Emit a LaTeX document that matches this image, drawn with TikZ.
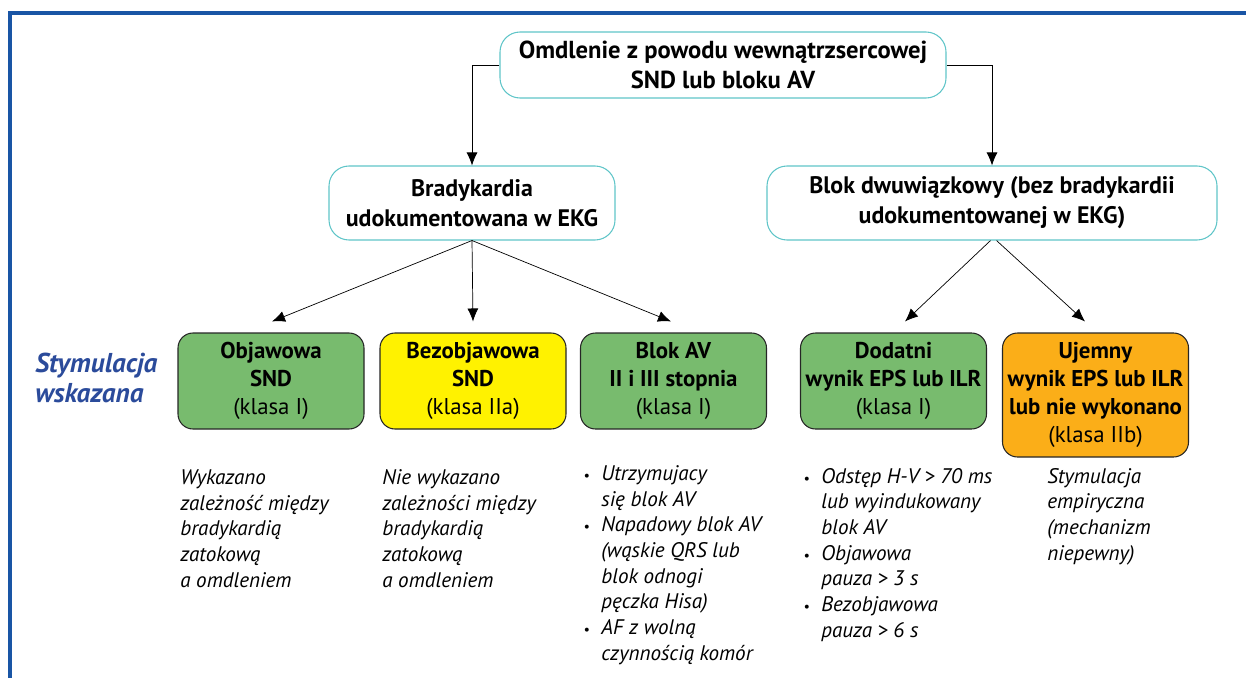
\documentclass[tikz,border=0pt]{standalone}
\usepackage{fontspec}
\setmainfont{PT Sans}
\usetikzlibrary{arrows.meta}

\definecolor{boxgreen}{RGB}{120,187,110}
\definecolor{boxyellow}{RGB}{255,242,0}
\definecolor{boxorange}{RGB}{251,174,24}
\definecolor{frameteal}{RGB}{95,197,200}
\definecolor{titleblue}{RGB}{43,75,155}
\definecolor{frameblue}{RGB}{25,85,165}

\newcommand{\itm}{\makebox[0.36cm][l]{\footnotesize\textbullet}}
\newcommand{\ind}{\hspace*{0.36cm}}

\begin{document}
\begin{tikzpicture}[
	>={Latex[length=2.6mm,width=2.2mm]},
	headbox/.style={draw=frameteal, line width=0.6pt, rounded corners=0.4cm, align=center,
		font=\fontsize{13.6}{17}\selectfont\bfseries, inner sep=0pt},
	classbox/.style={draw=black!85, line width=0.6pt, rounded corners=0.3cm, align=center,
		minimum width=3.72cm, minimum height=1.92cm, inner sep=0pt, font=\fontsize{13}{16}\selectfont},
	note/.style={anchor=base west, align=left, inner sep=0pt, font=\fontsize{12}{14.6}\selectfont\itshape}
	]
		\useasboundingbox (0,0) rectangle (24.92,-13.54);
		\draw[frameblue, line width=1.8pt] (0.2,-13.6) -- (0.2,-0.26) -- (25,-0.26);
		
		\node[headbox, font=\fontsize{14}{17}\selectfont\bfseries, minimum width=8.92cm, minimum height=1.32cm] (syncope) at (14.46,-1.3) {Omdlenie z powodu wewnątrzsercowej\\SND lub bloku AV};
		\node[headbox, minimum width=5.72cm, minimum height=1.48cm] (brady) at (9.44,-4.06) {Bradykardia\\udokumentowana w EKG};
		\node[headbox, minimum width=9.0cm, minimum height=1.48cm] (bifasc) at (19.84,-4.06) {Blok dwuwiązkowy (bez bradykardii\\udokumentowanej w EKG)};
		
		\node[anchor=base west, align=left, inner sep=0pt, text=titleblue, font=\fontsize{15.5}{17}\selectfont\bfseries\itshape] (paced) at (0.7,-8.04) {Stymulacja\\wskazana};
		
		\node[classbox, fill=boxgreen] (sndsym) at (5.42,-7.62) {\textbf{Objawowa}\\\textbf{SND}\\(klasa I)};
		\node[classbox, fill=boxyellow] (sndasym) at (9.46,-7.62) {\textbf{Bezobjawowa}\\\textbf{SND}\\(klasa IIa)};
		\node[classbox, fill=boxgreen] (avblock) at (13.47,-7.62) {\textbf{Blok AV}\\\textbf{II i III stopnia}\\(klasa I)};
		\node[classbox, fill=boxgreen] (posit) at (17.87,-7.62) {\textbf{Dodatni}\\\textbf{wynik EPS lub ILR}\\(klasa I)};
		\node[classbox, fill=boxorange, minimum height=2.48cm] (negat) at (21.91,-7.9) {\textbf{Ujemny}\\\textbf{wynik EPS lub ILR}\\\textbf{lub nie wykonano}\\(klasa IIb)};
		
		\draw[->] (syncope.west) -| (brady.north);
		\draw[->] (syncope.east) -| (bifasc.north);
		\draw[->] (brady.south) -- ([xshift=0.02cm,yshift=0.22cm]sndsym.north);
		\draw[->] (brady.south) -- ([yshift=0.22cm]sndasym.north);
		\draw[->] (brady.south) -- ([xshift=-0.05cm,yshift=0.22cm]avblock.north);
		\draw[->] ([xshift=-0.03cm]bifasc.south) -- ([xshift=0.23cm,yshift=0.22cm]posit.north);
		\draw[->] ([xshift=0.09cm]bifasc.south) -- ([xshift=-0.21cm,yshift=0.22cm]negat.north);
		
		% base anchor sits on the last line
		\node[note] (sndsymtxt) at (3.6,-11.74) {Wykazano\\zależność między\\bradykardią\\zatokową\\a omdleniem};
		\node[note] (sndasymtxt) at (7.64,-11.74) {Nie wykazano\\zależności między\\bradykardią\\zatokową\\a omdleniem};
		\node[note] (avblocktxt) at (11.66,-13.2) {\itm Utrzymujacy\\\ind się blok AV\\\itm Napadowy blok AV\\\ind (wąskie QRS lub\\\ind blok odnogi\\\ind pęczka Hisa)\\\itm AF z wolną\\\ind czynnością komór};
		\node[note] (posittxt) at (16.06,-12.74) {\itm Odstęp H-V > 70 ms\\\ind lub wyindukowany\\\ind blok AV\\\itm Objawowa\\\ind pauza > 3 s\\\itm Bezobjawowa\\\ind pauza > 6 s};
		\node[note] (negattxt) at (20.94,-11.2) {Stymulacja\\empiryczna\\(mechanizm\\niepewny)};
	\end{tikzpicture}
\end{document}
